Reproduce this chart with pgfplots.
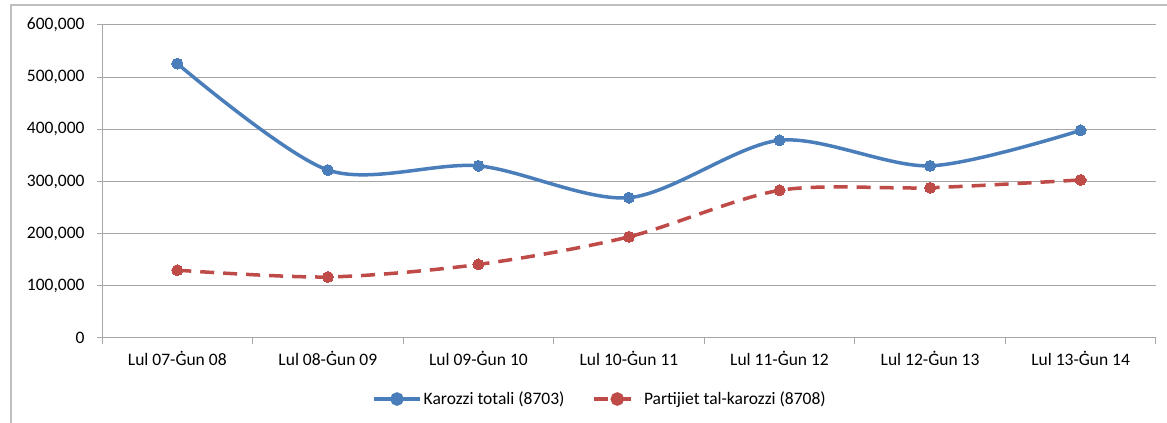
\documentclass[border=0pt]{standalone}
\usepackage{pgfplots}
\pgfplotsset{compat=1.18}
\usepackage{fontspec}
\setmainfont{Carlito}
\definecolor{sblue}{HTML}{4A7EBB}
\definecolor{sred}{HTML}{BE4B48}
\definecolor{gridc}{HTML}{A6A6A6}
\definecolor{framec}{HTML}{BFBFBF}
\begin{document}
\begin{tikzpicture}
\useasboundingbox (0,0) rectangle (1167bp,423bp);
\draw[framec, line width=1.5bp] (11bp,0) -- (11bp,418bp) -- (1167bp,418bp);
\begin{axis}[
  at={(102bp,85bp)}, anchor=south west,
  scale only axis, width=1054bp, height=313bp,
  xmin=-0.5, xmax=6.5, ymin=0, ymax=600000,
  axis x line*=bottom, axis y line*=left,
  axis line style={gridc, line width=1bp, -},
  xtick={0,...,6},
  xticklabels={Lul 07-Ġun 08, Lul 08-Ġun 09, Lul 09-Ġun 10, Lul 10-Ġun 11, Lul 11-Ġun 12, Lul 12-Ġun 13, Lul 13-Ġun 14},
  major x tick style={draw=none},
  minor xtick={-0.5,0.5,...,6.5},
  minor x tick style={gridc, line width=1bp},
  ytick={0,100000,...,600000},
  ymajorgrids, grid style={gridc, line width=1bp},
  major y tick style={gridc, line width=1bp},
  tick align=outside, major tick length=5bp, minor tick length=6bp,
  scaled y ticks=false,
  /pgf/number format/fixed, /pgf/number format/1000 sep={,},
  /pgf/number format/assume math mode=true,
  tick label style={font=\fontsize{17.5bp}{20bp}\selectfont, text=black},
  yticklabel style={xshift=-9bp},
  xticklabel style={yshift=-5bp},
  legend columns=2,
  legend style={draw=none, at={(0.4725,-0.195)}, anchor=center,
    font=\fontsize{17.5bp}{20bp}\selectfont, text=black,
    /tikz/every even column/.append style={column sep=26bp}},
  legend image code/.code={
    \draw[#1, mark=none] (0bp,0bp) -- (46bp,0bp);
    \fill[#1, solid] (23bp,0bp) circle (5bp);
  },
]
\addplot[sblue, line width=3.5bp, smooth, tension=0.5, mark=*, mark size=5.5bp, mark options={solid, fill=sblue, draw=sblue, line width=0pt}]
  coordinates {(0,526000) (1,322000) (2,330000) (3,269000) (4,379000) (5,330000) (6,398000)};
\addlegendentry{Karozzi totali (8703)}
\addplot[sred, line width=3.5bp, smooth, tension=0.5, dash pattern=on 14bp off 9bp, mark=*, mark size=5.5bp, mark options={solid, fill=sred, draw=sred, line width=0pt}]
  coordinates {(0,130000) (1,117000) (2,141000) (3,194000) (4,283000) (5,288000) (6,303000)};
\addlegendentry{Partijiet tal-karozzi (8708)}
\end{axis}
\end{tikzpicture}
\end{document}
